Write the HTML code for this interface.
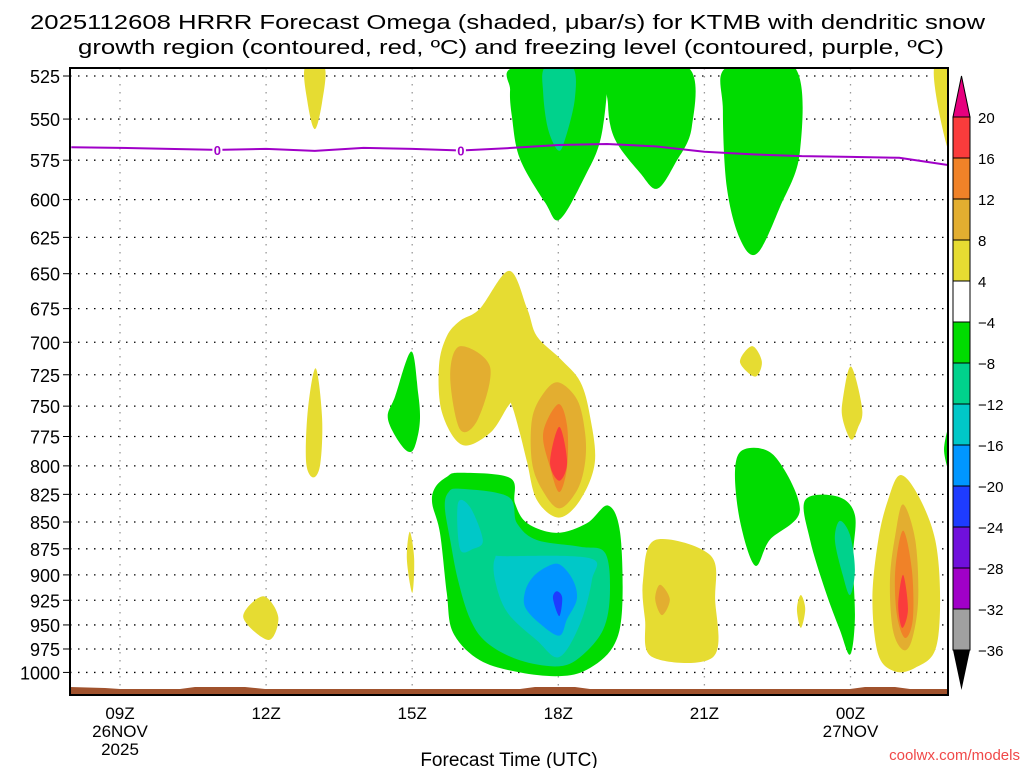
<!DOCTYPE html>
<html><head><meta charset="utf-8"><style>
html,body{margin:0;padding:0;background:#fff;}
svg{display:block;font-family:"Liberation Sans",sans-serif;}
</style></head><body>
<svg id="chart" width="1024" height="768" viewBox="0 0 1024 768">
<text x="30" y="29" font-size="20" textLength="955" lengthAdjust="spacingAndGlyphs">2025112608 HRRR Forecast Omega (shaded, μbar/s) for KTMB with dendritic snow</text>
<text x="78" y="54" font-size="20" textLength="866" lengthAdjust="spacingAndGlyphs">growth region (contoured, red, ºC) and freezing level (contoured, purple, ºC)</text>
<defs><clipPath id="pc"><rect x="70" y="68" width="878" height="627"/></clipPath></defs>
<g id="grid"></g>
<g id="blobs" clip-path="url(#pc)"></g>
<g id="terrain" clip-path="url(#pc)"></g>
<g id="fz" clip-path="url(#pc)"></g>
<rect x="70" y="68" width="878" height="627" fill="none" stroke="#000" stroke-width="2"/>
<g id="axes"></g>
<g id="cbar"></g>
<text x="509" y="766" font-size="19" text-anchor="middle">Forecast Time (UTC)</text>
<text x="1020" y="760" font-size="15" text-anchor="end" fill="#f04848">coolwx.com/models</text>
</svg>
<script>
const pressureTicks=[525,550,575,600,625,650,675,700,725,750,775,800,825,850,875,900,925,950,975,1000];
const timeTicks=[9,12,15,18,21,24];
const timeLabels=["09Z","12Z","15Z","18Z","21Z","00Z"];
const dateLabels=[["26NOV","2025"],[],[],[],[],["27NOV"]];
const fzHours=[8,9,10,11,12,13,14,15,16,17,18,19,20,21,22,23,24,25,26];
const fzPressure=[567,567.4,568,568.6,568,569.2,567.4,568,569,567.5,565.6,565,566.5,569.8,571.4,572.5,572.9,573.5,578];
const fzLabelHours=[11,16];
const cbLevels=[20,16,12,8,4,-4,-8,-12,-16,-20,-24,-28,-32,-36];
const cbColors=["#fa3c3c","#f08228","#e3ae30","#e6dc32","#ffffff","#00dc00","#00d28c","#00c8c8","#0096ff","#1e3cff","#7010dc","#a000c8","#a0a0a0"];
const levelColor={y:"#e6dc32",lo:"#e3ae30",o:"#f08228",r:"#fa3c3c",g:"#00dc00",t:"#00d28c",c:"#00c8c8",b:"#0096ff",db:"#1e3cff"};
const blobLevels=["y","g","t","g","g","y","y","g","y","lo","lo","o","r","g","t","c","c","b","db","y","y","y","lo","y","g","y","g","t","y","y","lo","o","r","g"];
const blobPoints=[
[[12.8,520],[13.2,520],[13.15,540],[13.0,556],[12.85,540]],
[[17.11,520],[18.96,520],[19.0,533],[18.86,563],[18.55,585],[18.03,613],[17.73,602],[17.21,574],[17.05,549],[17.01,533]],
[[17.73,520],[18.29,520],[18.34,538],[18.14,562],[18.0,569],[17.79,556],[17.69,535]],
[[19.10,520],[20.66,520],[20.74,555],[20.40,577],[20.03,593],[19.68,583],[19.16,562],[19.02,541]],
[[21.46,520],[22.85,520],[22.96,570],[22.55,605],[22.08,636],[21.73,626],[21.46,592],[21.38,545]],
[[25.72,520],[26.1,520],[26.1,573],[25.84,549]],
[[13.02,720],[13.15,760],[13.11,799],[12.96,810],[12.82,796],[12.86,752]],
[[14.98,707],[15.12,739],[15.16,760],[15.10,777],[14.98,788],[14.77,782],[14.50,760],[14.65,742]],
[[16.99,648],[16.39,675],[15.98,684],[15.71,695.5],[15.55,718],[15.61,755],[16.02,782],[16.60,772],[16.97,750],[17.05,750],[17.21,772],[17.36,797],[17.56,830],[18.01,846],[18.45,830],[18.75,797],[18.65,758],[18.45,730.5],[18.04,712.6],[17.56,695.5],[17.36,675]],
[[15.98,703],[16.60,719],[16.35,760.6],[15.98,769],[15.78,726]],
[[18.0,731],[18.39,745],[18.55,772],[18.55,797],[18.39,821],[18.02,837.6],[17.67,821],[17.46,797],[17.46,760.6],[17.69,740]],
[[18.0,748.4],[18.18,766],[18.18,801],[18.02,823],[17.83,801],[17.69,772]],
[[18.02,767],[18.18,797],[18.02,813],[17.83,797]],
[[15.71,809.6],[15.98,806],[17.01,810.5],[17.11,833],[17.36,851],[17.97,860],[18.59,851],[19.02,835],[19.27,860],[19.31,934],[19.12,973],[18.59,997],[18.03,1004],[17.21,1000],[16.39,987],[15.84,958],[15.71,917.7],[15.57,860],[15.41,833],[15.47,819]],
[[15.74,823.5],[15.98,820],[16.97,827],[17.15,851],[17.56,866.7],[18.45,873],[18.96,878.8],[19.06,917.7],[18.92,955],[18.45,983.5],[17.99,993.5],[17.21,987],[16.54,968.7],[16.19,944],[15.94,905],[15.78,866.7],[15.67,836.6]],
[[16.70,884],[16.95,882],[18.65,884],[18.69,905],[18.45,948.5],[18.02,983.5],[17.56,966],[16.95,937],[16.70,905]],
[[15.94,833],[16.19,836.6],[16.45,866.7],[16.25,875],[15.98,875]],
[[17.77,892],[18.03,890],[18.30,905],[18.38,924],[18.18,944],[18.02,961],[17.62,948.5],[17.32,932],[17.32,916],[17.48,902]],
[[17.97,916],[18.08,922.5],[18.02,941],[17.89,923]],
[[14.95,859],[15.04,884.6],[15.00,917.7],[14.89,884.6]],
[[11.94,921],[12.25,942],[12.05,965.6],[11.53,942]],
[[19.99,866.7],[21.12,881],[21.22,924],[21.18,983.5],[19.93,983.5],[19.78,944],[19.74,905]],
[[20.09,909.6],[20.29,924],[20.13,940],[19.99,924]],
[[21.98,702.9],[22.18,715],[22.04,726.5],[21.73,715]],
[[21.83,785.6],[22.45,792],[22.96,839.4],[22.34,866.7],[22.04,891],[21.73,849],[21.63,803]],
[[22.98,919.8],[23.07,934],[22.98,953],[22.90,934]],
[[23.07,830],[23.74,827],[24.09,843.6],[24.05,884.6],[24.09,944],[23.99,981],[23.78,955],[23.48,915],[23.17,866.7]],
[[23.78,849],[23.99,862],[24.09,895],[23.99,919.8],[23.84,900],[23.68,866.7]],
[[24.01,718.6],[24.24,752.4],[24.15,768],[24.01,777.6],[23.84,760.6],[23.84,745]],
[[25.02,808],[25.39,826],[25.74,866.7],[25.84,924],[25.74,976],[25.33,995],[24.92,999],[24.57,981],[24.45,924],[24.57,866.7],[24.77,830]],
[[25.08,834],[25.33,866.7],[25.39,924],[25.26,965.6],[25.08,976],[24.87,955],[24.81,905],[24.92,862]],
[[25.08,858],[25.26,895],[25.28,944],[25.12,963.5],[24.95,939],[24.92,895]],
[[25.08,900],[25.18,934],[25.06,953],[24.98,929]],
[[26.1,760],[26.1,810],[25.92,786]]
];
const NS="http://www.w3.org/2000/svg";
function X(h){return 120+(h-9)*48.7;}
function Y(p){return 76+Math.log(p/525)*925.6;}
function mk(tag,attrs,parent){const e=document.createElementNS(NS,tag);for(const k in attrs)e.setAttribute(k,attrs[k]);parent.appendChild(e);return e;}
const grid=document.getElementById('grid'),axes=document.getElementById('axes');
pressureTicks.forEach(p=>{
  const y=Y(p);
  const l=mk('line',{x1:70,x2:948,y1:y,y2:y,stroke:'#000','stroke-width':1.3,'stroke-dasharray':'1.5 6.5'},grid);
  
  
  const t=mk('line',{x1:63,x2:70,y1:y,y2:y,stroke:'#000','stroke-width':1},axes);
  
  
  const tx=mk('text',{x:60,y:y+7,'font-size':18,'text-anchor':'end'},axes);
  tx.textContent=p;
  
  
});
timeTicks.forEach((h,i)=>{
  const x=X(h);
  const l=mk('line',{x1:x,x2:x,y1:68,y2:695,stroke:'#999','stroke-width':1.3,'stroke-dasharray':'1.5 6.5'},grid);
  
  
  const tx=mk('text',{x:x,y:719,'font-size':17,'text-anchor':'middle'},axes);
  tx.textContent=timeLabels[i];
  
  
  dateLabels[i].forEach((d,j)=>{
    const t2=mk('text',{x:x,y:737+18*j,'font-size':17,'text-anchor':'middle'},axes);
    t2.textContent=d;
    
    
  });
});
function smooth(pts){
  const n=pts.length;let d='M'+pts[0][0]+','+pts[0][1];
  for(let i=0;i<n;i++){
    const p0=pts[(i-1+n)%n],p1=pts[i],p2=pts[(i+1)%n],p3=pts[(i+2)%n];
    const c1=[p1[0]+(p2[0]-p0[0])/6,p1[1]+(p2[1]-p0[1])/6];
    const c2=[p2[0]-(p3[0]-p1[0])/6,p2[1]-(p3[1]-p1[1])/6];
    d+='C'+c1[0]+','+c1[1]+' '+c2[0]+','+c2[1]+' '+p2[0]+','+p2[1];
  }
  return d+'Z';
}
const blobs=document.getElementById('blobs');
blobPoints.forEach((pts,i)=>{
  const px=pts.map(q=>[X(q[0]),Y(q[1])]);
  const e=mk('path',{d:smooth(px),fill:levelColor[blobLevels[i]]},blobs);
  
  
});
const ter=document.getElementById('terrain');
const tr=mk('path',{d:'M70,687 L105,688 L120,689 L180,689 L195,687 L245,687 L265,689 L520,689 L535,687 L575,687 L590,689 L850,689 L865,687 L895,687 L910,689 L950,689 L950,697 L70,697 Z',fill:'#a0522d'},ter);


const fz=document.getElementById('fz');
const fl=mk('polyline',{points:fzHours.map((h,i)=>X(h)+','+Y(fzPressure[i])).join(' '),fill:'none',stroke:'#a000c8','stroke-width':2},fz);


fzLabelHours.forEach(h=>{
  const i=fzHours.indexOf(h);
  const x=X(h),y=Y(fzPressure[i]);
  mk('rect',{x:x-5,y:y-7,width:10,height:13,fill:'#fff'},fz);
  const t=mk('text',{x:x,y:y+5,'font-size':13,'text-anchor':'middle',fill:'#a000c8','font-weight':'bold'},fz);
  t.textContent='0';
  
  
});
const cb=document.getElementById('cbar');
function CY(i){return 117+i*41;}
const cbTop=mk('polygon',{points:'953,'+CY(0)+' 970,'+CY(0)+' 961.5,76',fill:'#e6007e',stroke:'#000','stroke-width':1},cb);


cbColors.forEach((c,i)=>{
  const r=mk('rect',{x:953,y:CY(i),width:17,height:41,fill:c,stroke:'#000','stroke-width':1},cb);
  
  
});
const cbBot=mk('polygon',{points:'953,'+CY(13)+' 970,'+CY(13)+' 961.5,690',fill:'#000'},cb);


cbLevels.forEach((v,i)=>{
  const t=mk('text',{x:978,y:CY(i)+6,'font-size':15},cb);
  t.textContent=v>0?String(v):'\u2212'+Math.abs(v);
  
  
});
</script>
</body></html>
